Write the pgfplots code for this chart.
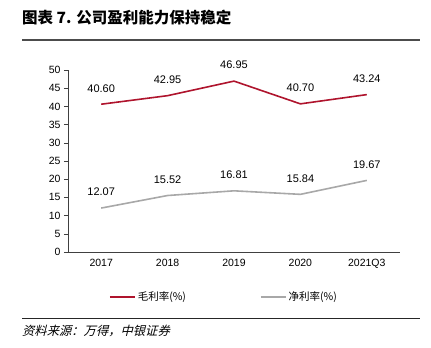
\documentclass[border=0pt]{standalone}
\usepackage{pgfplots}
\pgfplotsset{compat=1.18}
\usepackage{fontspec}
\setmainfont{Liberation Sans}
\newfontfamily\cjk{Noto Sans CJK SC}
\newfontfamily\cjkit[FakeSlant=0.25]{Noto Sans CJK SC}
\definecolor{myred}{RGB}{175,20,45}
\definecolor{mygray}{RGB}{168,168,168}
\begin{document}
\begin{tikzpicture}
\useasboundingbox (0,0) rectangle (431pt,-348pt);
\node[anchor=west, inner sep=0pt] at (22pt,-18pt) {\fontsize{15.5}{18}\selectfont\cjk\bfseries 图表 7. 公司盈利能力保持稳定};
\draw[line width=1.5pt, color=black!70] (22pt,-40pt) -- (420pt,-40pt);
\begin{axis}[
  at={(68pt,-252pt)}, anchor=south west,
  scale only axis, width=332pt, height=182pt,
  xmin=-0.5, xmax=4.5, ymin=0, ymax=50,
  axis x line*=bottom, axis y line*=left,
  axis line style={black!75, line width=0.6pt},
  xtick={0,1,2,3,4},
  xticklabels={2017,2018,2019,2020,2021Q3},
  x tick style={draw=none},
  extra x ticks={-0.5,0.5,1.5,2.5,3.5,4.5},
  extra x tick labels={},
  extra x tick style={tick style={draw=black!75, line width=0.6pt}, major tick length=4pt},
  ytick={0,5,...,50},
  y tick style={black!75, line width=0.6pt},
  tick align=outside, major tick length=4pt,
  /pgf/number format/assume math mode=true,
  ticklabel style={font=\fontsize{10.5}{12}\selectfont},
  legend style={at={(0.47,-0.247)}, anchor=center, draw=none, legend columns=2,
    font=\fontsize{10.5}{12}\selectfont\cjk, /tikz/every even column/.append style={column sep=72pt}},
  legend image post style={line width=1.6pt},
  legend image code/.code={\draw[#1] (0pt,0pt) -- (25pt,0pt);},
  nodes near coords={\pgfmathprintnumber[fixed,fixed zerofill,precision=2]{\pgfplotspointmeta}},
  every node near coord/.append style={font=\fontsize{11}{13}\selectfont, anchor=center, yshift=16pt, text=black},
  clip=false,
]
\addplot[color=myred, line width=1.6pt, mark=none] coordinates {(0,40.60) (1,42.95) (2,46.95) (3,40.70) (4,43.24)};
\addlegendentry{毛利率(\%)}
\addplot[color=mygray, line width=1.6pt, mark=none] coordinates {(0,12.07) (1,15.52) (2,16.81) (3,15.84) (4,19.67)};
\addlegendentry{净利率(\%)}
\end{axis}
\draw[line width=0.8pt, color=black!85] (22pt,-318pt) -- (420pt,-318pt);
\node[anchor=west, inner sep=0pt] at (22pt,-331pt) {\fontsize{12.3}{14}\selectfont\cjkit 资料来源：万得，中银证券};
\end{tikzpicture}
\end{document}
